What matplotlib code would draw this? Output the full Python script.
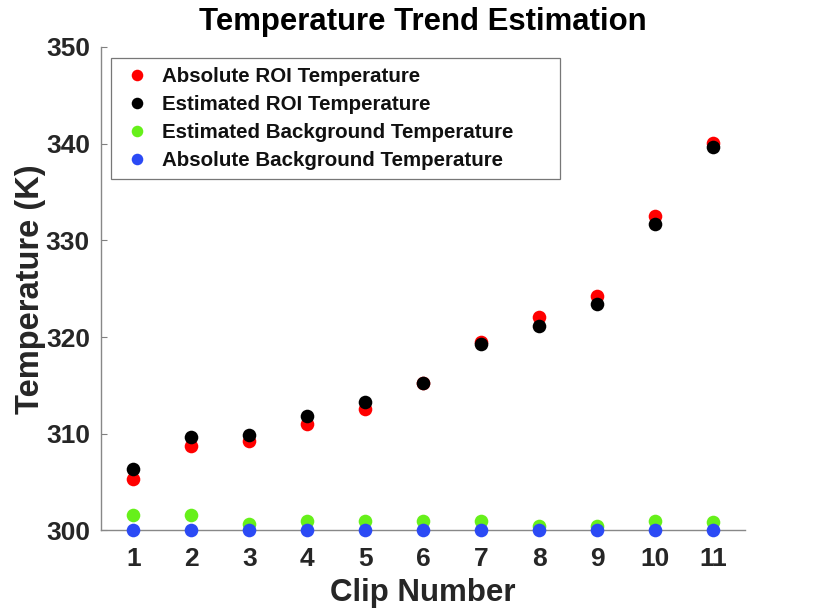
import matplotlib
matplotlib.use("Agg")
import matplotlib.pyplot as plt
import numpy as np

plt.rcParams['font.family'] = ['Liberation Sans', 'DejaVu Sans']
plt.rcParams['font.weight'] = 'bold'

clips = list(range(1, 12))
abs_roi = [305.3, 308.7, 309.3, 311.0, 312.6, 315.3, 319.5, 322.1, 324.3, 332.5, 340.1]
est_roi = [306.4, 309.7, 309.9, 311.8, 313.3, 315.3, 319.3, 321.1, 323.4, 331.7, 339.7]
est_bg = [301.6, 301.6, 300.7, 301.0, 301.0, 301.0, 301.0, 300.5, 300.5, 301.0, 300.9]
abs_bg = [300.1, 300.1, 300.1, 300.1, 300.1, 300.1, 300.1, 300.1, 300.1, 300.1, 300.1]
labels = ['Absolute ROI Temperature', 'Estimated ROI Temperature',
          'Estimated Background Temperature', 'Absolute Background Temperature']
colors = ['#ff0000', '#000000', '#66f01a', '#2b4af5']
yticks = [300, 310, 320, 330, 340, 350]

fig = plt.figure(figsize=(8.19, 6.15), dpi=100)
ax = fig.add_axes([0.1233, 0.1374, 0.7863, 0.7862])

ms = 9.8
for ys, c, lab in zip([abs_roi, est_roi, est_bg, abs_bg], colors, labels):
    ax.plot(clips, ys, linestyle='none', marker='o', markersize=ms,
            color=c, markeredgewidth=0, label=lab, clip_on=False, zorder=3)

ax.set_xlim(0.44, 11.55)
ax.set_ylim(300, 350)
ax.set_xticks(clips)
ax.set_yticks(yticks)
ax.tick_params(axis='both', direction='in', length=4, width=0.8, color='#808080',
               labelsize=19, labelcolor='#262626')
ax.tick_params(axis='y', pad=8)
ax.tick_params(axis='x', pad=12)
for t in ax.get_xticklabels() + ax.get_yticklabels():
    t.set_fontweight('bold')
for s in ['top', 'right']:
    ax.spines[s].set_visible(False)
for s in ['left', 'bottom']:
    ax.spines[s].set_color('#888888')
    ax.spines[s].set_linewidth(1.0)

ax.set_xlabel('Clip Number', fontsize=22.5, fontweight='bold', color='#262626', labelpad=5)
ax.set_ylabel('Temperature (K)', fontsize=23.5, fontweight='bold', color='#262626', labelpad=0)
ax.set_title('Temperature Trend Estimation', fontsize=22.4, fontweight='bold',
             color='#000000', pad=12)

leg = ax.legend(loc='upper left', bbox_to_anchor=(0.0155, 0.735, 0.6975, 0.242),
                mode='expand', borderaxespad=0, fontsize=14.8, frameon=True,
                fancybox=False, edgecolor='#555555', borderpad=0.45,
                handlelength=1.64, handletextpad=0.4, labelspacing=0.43,
                markerscale=0.85, numpoints=1)
leg.get_frame().set_linewidth(0.9)
for t in leg.get_texts():
    t.set_fontweight('bold')
    t.set_color('#111111')

fig.savefig('out.png', dpi=100)
